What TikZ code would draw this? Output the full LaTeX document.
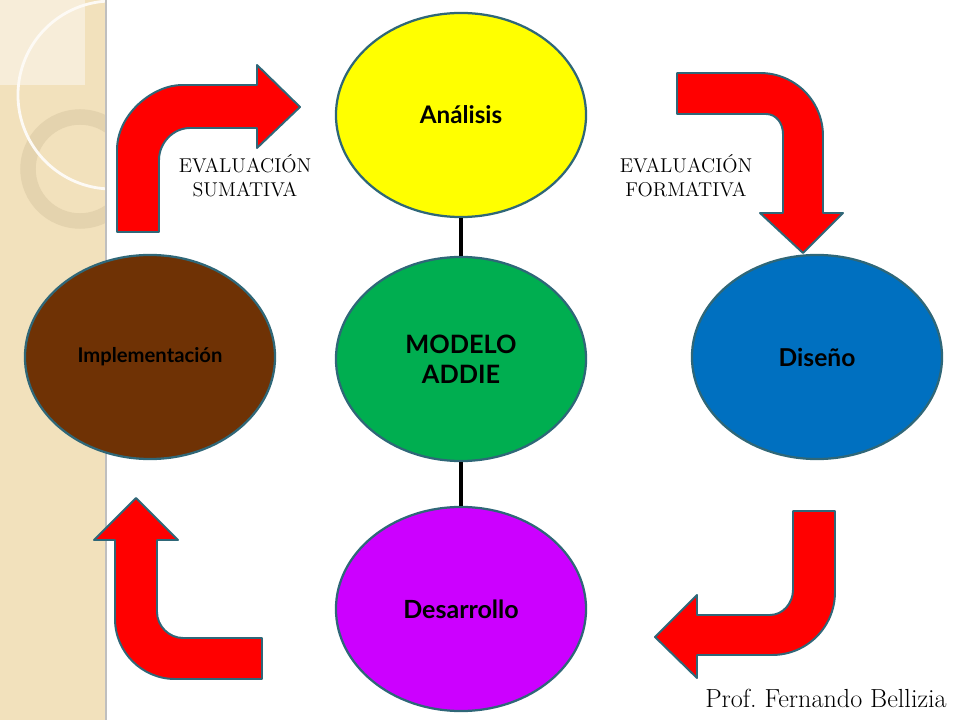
\documentclass[tikz,border=0pt]{standalone}
\usepackage{fontspec}
\usepackage{tikz}
\usetikzlibrary{shapes.geometric}
\newfontfamily\gillfont{Lato}

\definecolor{tira}{HTML}{F2E1BC}
\definecolor{tiraclara}{HTML}{F7EDD9}
\definecolor{anillo}{HTML}{E4D3AE}
\definecolor{borde}{HTML}{2F6778}
\definecolor{amarillo}{HTML}{FFFF00}
\definecolor{verde}{HTML}{00AE50}
\definecolor{azul}{HTML}{0070C0}
\definecolor{marron}{HTML}{6F3205}
\definecolor{violeta}{HTML}{CC00FF}

\tikzset{
  fase/.style={ellipse, draw=borde, line width=1.6pt, minimum width=6.25cm,
    minimum height=5.1cm, inner sep=0pt, font=\gillfont\bfseries, align=center},
  flecha/.style={fill=red, draw=borde, line width=1.4pt, line join=round},
  enlace/.style={line width=2.6pt, black},
  evaluacion/.style={align=center, font=\fontsize{14.2}{17.2}\selectfont}
}

\begin{document}
\begin{tikzpicture}[x=0.025cm, y=-0.025cm]
  \useasboundingbox (0,0) rectangle (960,720);

  % franja decorativa
  \fill[tira] (0,0) rectangle (105,720);
  \fill[tiraclara] (0,0) rectangle (85,85);
  \begin{scope}
    \clip (0,0) rectangle (105,720);
    \draw[anillo, line width=11pt] (80,169) circle[radius=1.3cm];
    \draw[white!85!tira, line width=2pt] (112,95) circle[radius=2.35cm];
  \end{scope}
  \draw[black!25, line width=1.2pt] (106,0) -- (106,720);

  % fases
  \node[fase, fill=amarillo, font=\gillfont\bfseries\fontsize{17.2}{20}\selectfont] (analisis) at (461,115) {Análisis};
  \node[fase, fill=verde, font=\gillfont\bfseries\fontsize{18}{21.5}\selectfont] (modelo) at (461,359) {MODELO\\ADDIE};
  \node[fase, fill=azul, font=\gillfont\bfseries\fontsize{17.5}{20}\selectfont] (diseno) at (817,357) {Diseño};
  \node[fase, fill=marron, font=\gillfont\bfseries\fontsize{14.4}{16}\selectfont] (implementacion) at (150,357) {Implementación};
  \node[fase, fill=violeta, font=\gillfont\bfseries\fontsize{17.8}{20}\selectfont] (desarrollo) at (461,609) {Desarrollo};

  \draw[enlace] (analisis) -- (modelo);
  \draw[enlace] (modelo) -- (desarrollo);

  % flechas
  \draw[flecha] (117,232) -- (117,150) .. controls (117,114) and (153,85) .. (182,85) -- (257,85)
    -- (257,65) -- (300,107) -- (257,148) -- (257,128) -- (190,128)
    .. controls (173,128) and (159,143) .. (159,160) -- (159,232) -- cycle;
  \draw[flecha] (677,73) -- (760,73) .. controls (795,73) and (823,101) .. (823,136) -- (823,213)
    -- (843,213) -- (803,253) -- (760,213) -- (783,213) -- (783,134)
    .. controls (783,123) and (776,114) .. (766,114) -- (677,114) -- cycle;
  \draw[flecha] (793,511) -- (835,511) -- (835,592) .. controls (835,627) and (807,655) .. (772,655)
    -- (697,655) -- (697,678) -- (655,637) -- (697,595) -- (697,615) -- (770,615)
    .. controls (783,615) and (793,603) .. (793,590) -- cycle;
  \draw[flecha] (262,638) -- (262,679) -- (175,679) .. controls (142,679) and (115,652) .. (115,619)
    -- (115,540) -- (94,540) -- (136,498) -- (178,540) -- (157,540) -- (157,612)
    .. controls (157,626) and (169,638) .. (183,638) -- cycle;

  % textos
  \node[evaluacion] (sumativa) at (245,176) {EVALUACIÓN\\SUMATIVA};
  \node[evaluacion] (formativa) at (686,176) {EVALUACIÓN\\FORMATIVA};
  \node[anchor=base east, font=\fontsize{18.6}{22}\selectfont, inner sep=0pt] (autor) at (947,707) {Prof.\ Fernando Bellizia};
\end{tikzpicture}
\end{document}
